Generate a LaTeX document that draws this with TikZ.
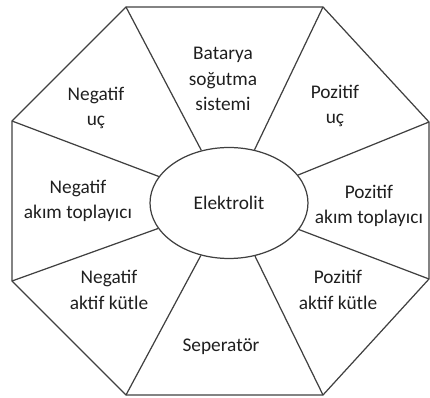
\documentclass[tikz,border=0pt]{standalone}
\usepackage{fontspec}
\setmainfont{Carlito}
\usepackage{xcolor}
\usetikzlibrary{shapes.geometric}
\definecolor{edgegray}{rgb}{0.25,0.25,0.25}
\definecolor{txtgray}{rgb}{0.12,0.12,0.12}

\begin{document}
\begin{tikzpicture}[x=0.02cm, y=-0.02cm,
      part/.style={font=\fontsize{11}{14.6}\selectfont, align=center,
                   text=txtgray, inner sep=0pt},
      core/.style={draw=edgegray, ellipse, line width=0.7pt,
                   minimum width=3.16cm, minimum height=2.22cm, inner sep=0pt,
                   font=\fontsize{11}{14.6}\selectfont, text=txtgray},
      edge/.style={draw=edgegray, line width=0.7pt, line join=round}
  ]
    \useasboundingbox (0,0) rectangle (430,398);
    % octagon corners
    \coordinate (tl) at (126,7);   \coordinate (tr) at (323,7);
    \coordinate (rt) at (429,122); \coordinate (rb) at (429,279);
    \coordinate (br) at (323,395); \coordinate (bl) at (126,395);
    \coordinate (lb) at (12,281);  \coordinate (lt) at (12,121);
    \draw[edge] (tl)--(tr)--(rt)--(rb)--(br)--(bl)--(lb)--(lt)--cycle;

    \node[core] (el) at (229,203) {Elektrolit};
    \foreach \v in {tl,tr,rt,rb,br,bl,lb,lt} \draw[edge] (\v)--(el);

    \node[part] (bat) at (223,79) {Batarya\\ soğutma\\ sistemi};
    \node[part] (nuc) at (96,108) {Negatif\\ uç};
    \node[part] (puc) at (335,106) {Pozitif\\ uç};
    \node[part] (nak) at (78,201) {Negatif\\ akım toplayıcı};
    \node[part] (pak) at (369,206) {Pozitif\\ akım toplayıcı};
    \node[part] (nkt) at (109,290) {Negatif\\ aktif kütle};
    \node[part] (pkt) at (338,290) {Pozitif\\ aktif kütle};
    \node[part] (sep) at (221,347) {Seperatör};
\end{tikzpicture}
\end{document}
